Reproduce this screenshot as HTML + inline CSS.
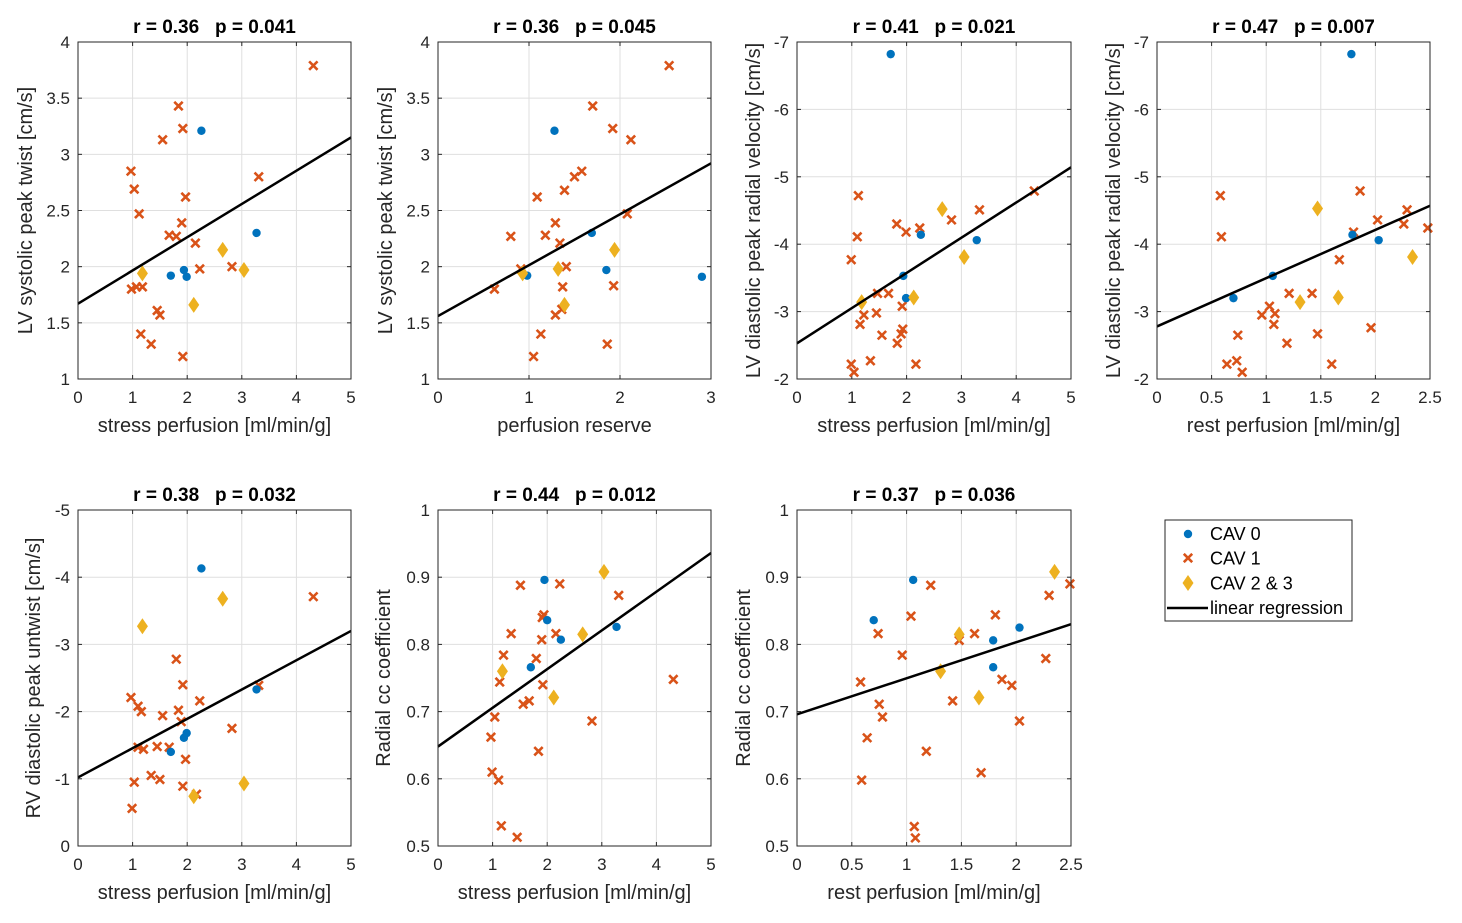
<!DOCTYPE html>
<html><head><meta charset="utf-8">
<style>
html,body{margin:0;padding:0;background:#fff;}
svg{display:block;font-family:"Liberation Sans",Arial,sans-serif;}
.ttl{white-space:pre;}
</style></head>
<body>
<svg id="fig" width="1462" height="923" viewBox="0 0 1462 923"></svg>
<script>
// ---- data ----
const p1_cav0_x=[2.26,3.27,1.70,1.94,1.99];
const p1_cav0_y=[3.21,2.30,1.92,1.97,1.91];
const p1_cav1_x=[4.31,1.84,1.92,1.55,0.97,1.03,1.12,1.97,3.31,1.90,1.67,1.80,2.15,2.23,2.82,0.98,1.07,1.18,1.45,1.50,1.15,1.34,1.92];
const p1_cav1_y=[3.79,3.43,3.23,3.13,2.85,2.69,2.47,2.62,2.80,2.39,2.28,2.27,2.21,1.98,2.00,1.80,1.82,1.82,1.61,1.57,1.40,1.31,1.20];
const p1_cav23_x=[1.18,2.65,2.12,3.04];
const p1_cav23_y=[1.94,2.15,1.66,1.97];
const p1_fit=[1.67,3.15];

const p2_cav0_x=[1.28,1.69,0.98,1.85,2.90];
const p2_cav0_y=[3.21,2.30,1.92,1.97,1.91];
const p2_cav1_x=[2.54,1.70,1.92,2.12,1.58,1.50,1.39,1.09,2.08,1.29,0.80,1.18,1.34,1.41,0.91,0.62,1.37,1.93,1.36,1.29,1.13,1.86,1.05];
const p2_cav1_y=[3.79,3.43,3.23,3.13,2.85,2.80,2.68,2.62,2.47,2.39,2.27,2.28,2.21,2.00,1.98,1.80,1.82,1.83,1.62,1.57,1.40,1.31,1.20];
const p2_cav23_x=[0.93,1.94,1.32,1.39];
const p2_cav23_y=[1.94,2.15,1.98,1.66];
const p2_fit=[1.56,2.92];

const p3_cav0_x=[1.71,1.94,1.99,2.26,3.28];
const p3_cav0_y=[-6.82,-3.53,-3.20,-4.14,-4.06];
const p3_cav1_x=[4.33,3.33,2.82,2.24,1.99,1.82,1.12,1.10,0.99,1.47,1.67,1.22,1.15,1.45,1.92,1.55,1.93,1.90,1.83,0.99,1.04,1.34,2.17];
const p3_cav1_y=[-4.79,-4.51,-4.36,-4.24,-4.18,-4.30,-4.72,-4.11,-3.77,-3.27,-3.27,-2.95,-2.81,-2.98,-3.08,-2.65,-2.74,-2.67,-2.53,-2.22,-2.10,-2.27,-2.22];
const p3_cav23_x=[1.18,2.13,2.65,3.05];
const p3_cav23_y=[-3.14,-3.21,-4.52,-3.81];
const p3_fit=[-2.53,-5.14];

const p4_cav0_x=[1.78,1.06,0.70,1.79,2.03];
const p4_cav0_y=[-6.82,-3.53,-3.20,-4.14,-4.06];
const p4_cav1_x=[0.58,0.59,1.86,2.29,2.02,1.80,2.26,2.48,1.67,1.21,1.42,1.03,0.96,1.08,1.07,0.74,1.96,1.47,1.19,0.73,0.64,0.78,1.60];
const p4_cav1_y=[-4.72,-4.11,-4.79,-4.51,-4.36,-4.18,-4.30,-4.24,-3.77,-3.27,-3.27,-3.08,-2.95,-2.97,-2.81,-2.65,-2.76,-2.67,-2.53,-2.27,-2.22,-2.10,-2.22];
const p4_cav23_x=[1.47,2.34,1.31,1.66];
const p4_cav23_y=[-4.53,-3.81,-3.14,-3.21];
const p4_fit=[-2.78,-4.57];

const p5_cav0_x=[2.26,3.27,1.70,1.94,1.99];
const p5_cav0_y=[-4.13,-2.33,-1.40,-1.61,-1.68];
const p5_cav1_x=[4.31,1.80,1.92,2.23,3.31,2.82,1.84,1.89,1.55,0.97,1.10,1.16,1.10,1.20,1.45,1.67,1.97,1.34,1.50,1.03,1.92,2.17,0.99];
const p5_cav1_y=[-3.71,-2.78,-2.40,-2.16,-2.39,-1.75,-2.02,-1.85,-1.94,-2.21,-2.08,-2.00,-1.47,-1.44,-1.48,-1.47,-1.29,-1.05,-0.99,-0.95,-0.89,-0.77,-0.56];
const p5_cav23_x=[1.18,2.65,3.04,2.12];
const p5_cav23_y=[-3.27,-3.68,-0.93,-0.74];
const p5_fit=[-1.02,-3.20];

const p6_cav0_x=[1.95,2.00,2.25,1.70,3.27];
const p6_cav0_y=[0.896,0.836,0.807,0.766,0.826];
const p6_cav1_x=[1.51,2.23,3.31,1.94,1.91,1.34,2.16,1.90,1.20,1.80,1.13,1.92,1.56,1.67,4.31,1.04,2.82,0.97,1.84,0.99,1.11,1.16,1.45];
const p6_cav1_y=[0.888,0.890,0.873,0.844,0.840,0.816,0.816,0.807,0.784,0.779,0.744,0.740,0.711,0.716,0.748,0.692,0.686,0.662,0.641,0.610,0.598,0.530,0.513];
const p6_cav23_x=[3.04,2.65,1.18,2.12];
const p6_cav23_y=[0.908,0.815,0.760,0.721];
const p6_fit=[0.648,0.936];

const p7_cav0_x=[1.06,0.70,1.79,1.79,2.03];
const p7_cav0_y=[0.896,0.836,0.806,0.766,0.825];
const p7_cav1_x=[1.22,2.30,2.49,1.04,1.81,0.74,1.62,1.48,0.96,2.27,0.58,1.87,1.96,0.75,1.42,0.78,2.03,0.64,1.18,1.68,0.59,1.07,1.08];
const p7_cav1_y=[0.888,0.873,0.890,0.842,0.844,0.816,0.816,0.806,0.784,0.779,0.744,0.748,0.739,0.711,0.716,0.692,0.686,0.661,0.641,0.609,0.598,0.529,0.512];
const p7_cav23_x=[2.35,1.48,1.31,1.66];
const p7_cav23_y=[0.908,0.815,0.760,0.721];
const p7_fit=[0.696,0.830];

const xTicks5=[0,1,2,3,4,5];
const xTicks3=[0,1,2,3];
const xTicks25=[0,0.5,1,1.5,2,2.5];
const yTicksTwist=[1,1.5,2,2.5,3,3.5,4];
const yTicksRad=[-7,-6,-5,-4,-3,-2];
const yTicksRV=[-5,-4,-3,-2,-1,0];
const yTicksCC=[0.5,0.6,0.7,0.8,0.9,1];

const panels=[
 {id:'p1',L:78,R:351,T:42,B:379,x0:0,x1:5,yT:4,yB:1,xt:xTicks5,yt:yTicksTwist,c0x:p1_cav0_x,c0y:p1_cav0_y,c1x:p1_cav1_x,c1y:p1_cav1_y,c2x:p1_cav23_x,c2y:p1_cav23_y,fit:p1_fit,title:'r = 0.36   p = 0.041',xl:'stress perfusion [ml/min/g]',yl:'LV systolic peak twist [cm/s]',ylx:32},
 {id:'p2',L:438,R:711,T:42,B:379,x0:0,x1:3,yT:4,yB:1,xt:xTicks3,yt:yTicksTwist,c0x:p2_cav0_x,c0y:p2_cav0_y,c1x:p2_cav1_x,c1y:p2_cav1_y,c2x:p2_cav23_x,c2y:p2_cav23_y,fit:p2_fit,title:'r = 0.36   p = 0.045',xl:'perfusion reserve',yl:'LV systolic peak twist [cm/s]',ylx:392},
 {id:'p3',L:797,R:1071,T:42,B:379,x0:0,x1:5,yT:-7,yB:-2,xt:xTicks5,yt:yTicksRad,c0x:p3_cav0_x,c0y:p3_cav0_y,c1x:p3_cav1_x,c1y:p3_cav1_y,c2x:p3_cav23_x,c2y:p3_cav23_y,fit:p3_fit,title:'r = 0.41   p = 0.021',xl:'stress perfusion [ml/min/g]',yl:'LV diastolic peak radial velocity [cm/s]',ylx:760},
 {id:'p4',L:1157,R:1430,T:42,B:379,x0:0,x1:2.5,yT:-7,yB:-2,xt:xTicks25,yt:yTicksRad,c0x:p4_cav0_x,c0y:p4_cav0_y,c1x:p4_cav1_x,c1y:p4_cav1_y,c2x:p4_cav23_x,c2y:p4_cav23_y,fit:p4_fit,title:'r = 0.47   p = 0.007',xl:'rest perfusion [ml/min/g]',yl:'LV diastolic peak radial velocity [cm/s]',ylx:1120},
 {id:'p5',L:78,R:351,T:510,B:846,x0:0,x1:5,yT:-5,yB:0,xt:xTicks5,yt:yTicksRV,c0x:p5_cav0_x,c0y:p5_cav0_y,c1x:p5_cav1_x,c1y:p5_cav1_y,c2x:p5_cav23_x,c2y:p5_cav23_y,fit:p5_fit,title:'r = 0.38   p = 0.032',xl:'stress perfusion [ml/min/g]',yl:'RV diastolic peak untwist [cm/s]',ylx:40},
 {id:'p6',L:438,R:711,T:510,B:846,x0:0,x1:5,yT:1,yB:0.5,xt:xTicks5,yt:yTicksCC,c0x:p6_cav0_x,c0y:p6_cav0_y,c1x:p6_cav1_x,c1y:p6_cav1_y,c2x:p6_cav23_x,c2y:p6_cav23_y,fit:p6_fit,title:'r = 0.44   p = 0.012',xl:'stress perfusion [ml/min/g]',yl:'Radial cc coefficient',ylx:390},
 {id:'p7',L:797,R:1071,T:510,B:846,x0:0,x1:2.5,yT:1,yB:0.5,xt:xTicks25,yt:yTicksCC,c0x:p7_cav0_x,c0y:p7_cav0_y,c1x:p7_cav1_x,c1y:p7_cav1_y,c2x:p7_cav23_x,c2y:p7_cav23_y,fit:p7_fit,title:'r = 0.37   p = 0.036',xl:'rest perfusion [ml/min/g]',yl:'Radial cc coefficient',ylx:750}
];

const NS='http://www.w3.org/2000/svg';
const svg=document.getElementById('fig');
function mk(tag,attrs,parent){const e=document.createElementNS(NS,tag);for(const k in attrs)e.setAttribute(k,attrs[k]);(parent||svg).appendChild(e);return e;}
function fmt(v){return String(v);}

function circle(g,cx,cy){
  const c=mk('circle',{cx:cx,cy:cy,r:4.2,fill:'#0072BD'},g);
  
  
}
function cross(g,cx,cy){
  const s=4.2;
  const p=mk('path',{d:`M${cx-s},${cy-s}L${cx+s},${cy+s}M${cx-s},${cy+s}L${cx+s},${cy-s}`,stroke:'#D95319','stroke-width':2.6,fill:'none'},g);
  
  
}
function diamond(g,cx,cy){
  const p=mk('path',{d:`M${cx},${cy-8}L${cx+5.5},${cy}L${cx},${cy+8}L${cx-5.5},${cy}Z`,fill:'#EDB120'},g);
  
  
}

panels.forEach(P=>{
  const g=mk('g',{});
  
  
  const sx=v=>P.L+(v-P.x0)/(P.x1-P.x0)*(P.R-P.L);
  const sy=v=>P.T+(v-P.yT)/(P.yB-P.yT)*(P.B-P.T);
  mk('rect',{x:P.L,y:P.T,width:P.R-P.L,height:P.B-P.T,fill:'#fff'},g);
  P.xt.forEach(t=>{const x=sx(t);
    const l=mk('line',{x1:x,x2:x,y1:P.T,y2:P.B,stroke:'#dfdfdf','stroke-width':1},g);
    
    
  });
  P.yt.forEach(t=>{const y=sy(t);
    const l=mk('line',{x1:P.L,x2:P.R,y1:y,y2:y,stroke:'#dfdfdf','stroke-width':1},g);
    
    
  });
  P.xt.forEach(t=>{const x=sx(t);
    mk('line',{x1:x,x2:x,y1:P.B,y2:P.B-4,stroke:'#262626'},g);
    mk('line',{x1:x,x2:x,y1:P.T,y2:P.T+4,stroke:'#262626'},g);
    const tx=mk('text',{x:x,y:P.B+24,'text-anchor':'middle','font-size':17,fill:'#262626'},g);
    tx.textContent=fmt(t);
    
    
  });
  P.yt.forEach(t=>{const y=sy(t);
    mk('line',{x1:P.L,x2:P.L+4,y1:y,y2:y,stroke:'#262626'},g);
    mk('line',{x1:P.R,x2:P.R-4,y1:y,y2:y,stroke:'#262626'},g);
    const tx=mk('text',{x:P.L-8,y:y+6,'text-anchor':'end','font-size':17,fill:'#262626'},g);
    tx.textContent=fmt(t);
    
    
  });
  P.c1x.forEach((v,i)=>cross(g,sx(v),sy(P.c1y[i])));
  P.c0x.forEach((v,i)=>circle(g,sx(v),sy(P.c0y[i])));
  P.c2x.forEach((v,i)=>diamond(g,sx(v),sy(P.c2y[i])));
  const fl=mk('line',{x1:sx(P.x0),y1:sy(P.fit[0]),x2:sx(P.x1),y2:sy(P.fit[1]),stroke:'#000','stroke-width':2.5},g);
  
  
  mk('rect',{x:P.L,y:P.T,width:P.R-P.L,height:P.B-P.T,fill:'none',stroke:'#262626','stroke-width':1},g);
  const ti=mk('text',{x:(P.L+P.R)/2,y:P.T-9,'text-anchor':'middle','font-size':19,'font-weight':'bold',fill:'#000','class':'ttl'},g);
  ti.textContent=P.title;
  
  
  const xl=mk('text',{x:(P.L+P.R)/2,y:P.B+53,'text-anchor':'middle','font-size':20,fill:'#262626'},g);
  xl.textContent=P.xl;
  
  
  const cy=(P.T+P.B)/2;
  const yl=mk('text',{x:P.ylx,y:cy,'text-anchor':'middle','font-size':20,fill:'#262626',transform:`rotate(-90 ${P.ylx} ${cy})`},g);
  yl.textContent=P.yl;
  
  
});

const lg=mk('g',{});


mk('rect',{x:1165,y:520,width:187,height:101,fill:'#fff',stroke:'#262626','stroke-width':1},lg);
circle(lg,1188,534);
cross(lg,1188,558);
diamond(lg,1188,583);
mk('line',{x1:1167,x2:1208,y1:608,y2:608,stroke:'#000','stroke-width':2.5},lg);
const legTexts=['CAV 0','CAV 1','CAV 2 & 3','linear regression'];
legTexts.forEach((s,i)=>{
  const t=mk('text',{x:1210,y:540+i*24.7,'font-size':18,fill:'#000'},lg);
  t.textContent=s;
  
  
});
</script>
</body></html>
